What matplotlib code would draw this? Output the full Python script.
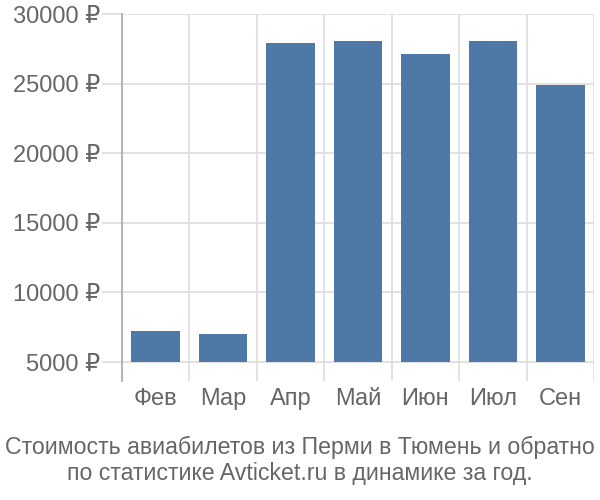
import matplotlib.pyplot as plt
import numpy as np

plt.rcParams['font.family'] = ['Liberation Sans', 'DejaVu Sans']

# Data
months = ['Фев', 'Мар', 'Апр', 'Май', 'Июн', 'Июл', 'Сен']
prices = [7200, 7010, 27950, 28080, 27150, 28080, 24880]
y_ticks = [5000, 10000, 15000, 20000, 25000, 30000]
title = ('Стоимость авиабилетов из Перми в Тюмень и обратно\n'
         'по статистике Avticket.ru в динамике за год.')

bar_color = '#4e79a7'
grid_color = '#dddddd'
text_color = '#666666'
base = 5000

fig = plt.figure(figsize=(6, 5), dpi=100)
ax = fig.add_axes([0.2033, 0.238, 0.7867, 0.734])

x = np.arange(len(months))
ax.bar(x, np.array(prices) - base, bottom=base, width=0.72,
       color=bar_color, zorder=3)

ax.set_xlim(-0.5, len(months) - 0.5)
ax.set_ylim(3640, 30000)

# horizontal grid with tick marks extending to the left
ax.set_yticks(y_ticks)
ax.set_yticklabels([f'{v} ₽' for v in y_ticks])
ax.yaxis.grid(True, color=grid_color, linewidth=1.2, zorder=0)
ax.tick_params(axis='y', length=14.5, width=1.2, color=grid_color,
               labelsize=17, labelcolor=text_color, pad=1)

# vertical grid on category boundaries
ax.set_xticks(x)
ax.set_xticklabels(months)
ax.set_xticks(np.arange(-0.5, len(months)), minor=True)
ax.xaxis.grid(True, which='minor', color=grid_color, linewidth=1.2, zorder=0)
ax.tick_params(axis='x', which='major', length=0, labelsize=17,
               labelcolor=text_color, pad=5)
ax.tick_params(axis='x', which='minor', length=0)

for side in ['top', 'right', 'bottom']:
    ax.spines[side].set_visible(False)
ax.spines['left'].set_color('#aaaaaa')
ax.spines['left'].set_linewidth(1.2)

fig.text(0.5, 0.079, title, ha='center', va='center', fontsize=16.7,
         color=text_color, linespacing=1.15)

fig.savefig('out.png', dpi=100)
